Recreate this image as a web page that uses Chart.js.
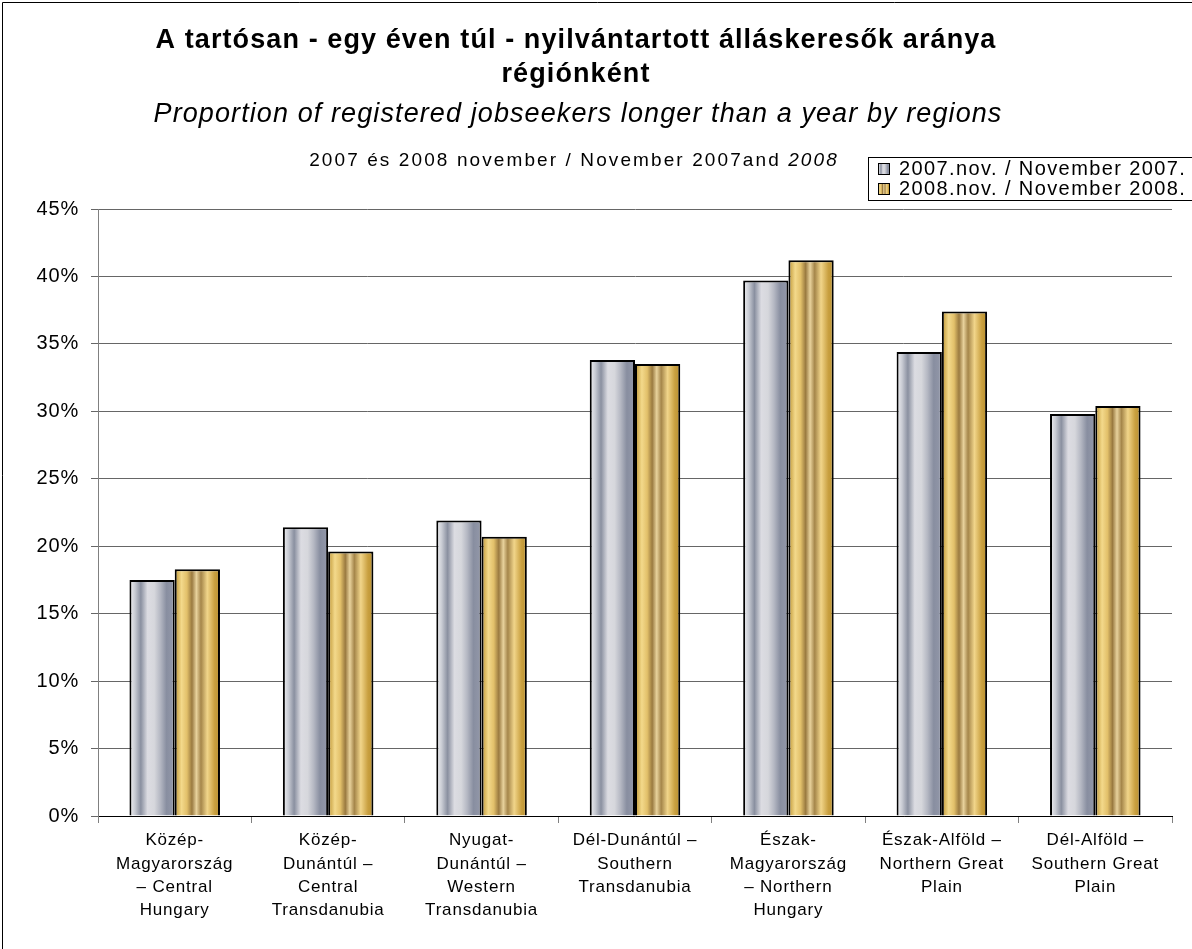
<!DOCTYPE html>
<html>
<head>
<meta charset="utf-8">
<script src="https://cdn.jsdelivr.net/npm/chart.js@4.4.0/dist/chart.umd.min.js"></script>
<style>
  body { margin: 0; background: #fff; }
  canvas { display: block; }
</style>
</head>
<body>
<canvas id="chart" width="1192" height="949"></canvas>
<script>
// regions (x axis labels, split in lines like the original)
var regions = [
	['Közép-', 'Magyarország', '– Central', 'Hungary'],
	['Közép-', 'Dunántúl –', 'Central', 'Transdanubia'],
	['Nyugat-', 'Dunántúl –', 'Western', 'Transdanubia'],
	['Dél-Dunántúl –', 'Southern', 'Transdanubia'],
	['Észak-', 'Magyarország', '– Northern', 'Hungary'],
	['Észak-Alföld –', 'Northern Great', 'Plain'],
	['Dél-Alföld –', 'Southern Great', 'Plain']
];
var seriesNames = ['2007.nov. / November 2007.', '2008.nov. / November 2008.'];
var nov2007 = [17.5, 21.4, 21.9, 33.8, 39.7, 34.4, 29.8];
var nov2008 = [18.3, 19.6, 20.7, 33.5, 41.2, 37.4, 30.4];
var yTicks = [0, 5, 10, 15, 20, 25, 30, 35, 40, 45];

var catPct = 0.59;
var FONT = '"Liberation Sans", Arial, sans-serif';

// stripe colours of the two bar fills
var silverStops = [
	[0, '#f2f2f4'], [0.12, '#c9ccd4'], [0.25, '#8a90a0'], [0.4, '#dcdce2'],
	[0.55, '#d6d7dc'], [0.68, '#b5b8c3'], [0.82, '#888ea0'], [1, '#9499aa']
];
var goldStops = [
	[0, '#bd9432'], [0.15, '#f3d98b'], [0.27, '#e2c06a'], [0.38, '#9a7a40'],
	[0.48, '#e8d29c'], [0.58, '#a5864a'], [0.72, '#f1d58a'], [0.88, '#c9a040'], [1, '#b88f2e']
];

function stripes(ctx, left, w, stops) {
	var g = ctx.createLinearGradient(left, 0, left + w, 0);
	for (var i = 0; i < stops.length; i++) g.addColorStop(stops[i][0], stops[i][1]);
	return g;
}

function barFill(stops, dsIndex, fallback) {
	return function(c) {
		var chart = c.chart;
		var xs = chart.scales.x;
		if (!xs || c.dataIndex === undefined) return fallback;
		var center = xs.getPixelForValue(c.dataIndex);
		var barW = xs.width / regions.length * catPct / 2;
		if (!isFinite(center) || !isFinite(barW) || barW <= 0) return fallback;
		var left = dsIndex === 0 ? center - barW : center;
		return stripes(chart.ctx, left, barW, stops);
	};
}

// the original text is drawn a bit spaced out
var spacingPlugin = {
	id: 'spacing',
	beforeDraw: function(chart) {
		chart.ctx.letterSpacing = '0.8px';
	}
};

var headerPlugin = {
	id: 'header',
	afterDraw: function(chart) {
		var ctx = chart.ctx;
		ctx.save();
		// frame
		ctx.strokeStyle = '#000';
		ctx.lineWidth = 1;
		ctx.beginPath();
		ctx.moveTo(2.5, 949);
		ctx.lineTo(2.5, 2.5);
		ctx.lineTo(1192, 2.5);
		ctx.stroke();

		ctx.fillStyle = '#000';
		ctx.textAlign = 'center';
		ctx.textBaseline = 'middle';
		ctx.font = 'bold 27px ' + FONT;
		ctx.letterSpacing = '1.1px';
		ctx.fillText('A tartósan - egy éven túl - nyilvántartott álláskeresők aránya', 576, 41);
		ctx.fillText('régiónként', 576, 75);
		ctx.font = 'italic 27px ' + FONT;
		ctx.letterSpacing = '1.1px';
		ctx.fillText('Proportion of registered jobseekers longer than a year by regions', 578, 114);

		// sub caption, last word italic
		ctx.textAlign = 'left';
		ctx.letterSpacing = '2.1px';
		var p1 = '2007 és 2008 november / November 2007and ';
		ctx.font = '19px ' + FONT;
		var w1 = ctx.measureText(p1).width;
		ctx.font = 'italic 19px ' + FONT;
		var w2 = ctx.measureText('2008').width;
		var sx = 574 - (w1 + w2) / 2;
		ctx.font = '19px ' + FONT;
		ctx.fillText(p1, sx, 161);
		ctx.font = 'italic 19px ' + FONT;
		ctx.fillText('2008', sx + w1, 161);

		// legend box
		ctx.fillStyle = '#fff';
		ctx.fillRect(868, 157, 330, 43);
		ctx.strokeStyle = '#000';
		ctx.strokeRect(868.5, 157.5, 330, 43);
		var rows = [[silverStops, 169], [goldStops, 189]];
		ctx.font = '20px ' + FONT;
		ctx.letterSpacing = '1.4px';
		for (var i = 0; i < 2; i++) {
			var yy = rows[i][1];
			ctx.fillStyle = stripes(ctx, 878, 12, rows[i][0]);
			ctx.fillRect(878, yy - 6, 12, 12);
			ctx.strokeStyle = '#000';
			ctx.strokeRect(878.5, yy - 5.5, 11, 11);
			ctx.fillStyle = '#000';
			ctx.fillText(seriesNames[i], 899, yy);
		}
		ctx.restore();
	}
};

var chart = new Chart(document.getElementById('chart'), {
	type: 'bar',
	data: {
		labels: regions,
		datasets: [
			{
				label: seriesNames[0],
				data: nov2007,
				backgroundColor: barFill(silverStops, 0, '#b8bcc6'),
				borderColor: '#000',
				borderWidth: 2
			},
			{
				label: seriesNames[1],
				data: nov2008,
				backgroundColor: barFill(goldStops, 1, '#d4b060'),
				borderColor: '#000',
				borderWidth: 2
			}
		]
	},
	options: {
		responsive: false,
		animation: false,
		datasets: { bar: { categoryPercentage: catPct, barPercentage: 1 } },
		layout: { padding: { left: 0, right: 20, top: 209, bottom: 0 } },
		plugins: {
			legend: { display: false },
			tooltip: { enabled: false },
			title: { display: false }
		},
		scales: {
			x: {
				afterFit: function(s) { s.height = 133; },
				grid: { drawOnChartArea: false, drawTicks: true, tickLength: 7, color: '#808080', offset: true },
				border: { color: '#000', width: 1 },
				ticks: {
					color: '#000',
					padding: 6,
					maxRotation: 0,
					autoSkip: false,
					font: { family: FONT, size: 17, lineHeight: 1.37 }
				}
			},
			y: {
				min: 0,
				max: 45,
				afterFit: function(s) { s.width = 98; },
				afterBuildTicks: function(s) { s.ticks = yTicks.map(function(v) { return { value: v }; }); },
				grid: { color: '#666', lineWidth: 1, tickLength: 7 },
				border: { color: '#808080', width: 1 },
				ticks: {
					color: '#000',
					padding: 12,
					callback: function(v) { return v + '%'; },
					font: { family: FONT, size: 20 }
				}
			}
		}
	},
	plugins: [spacingPlugin, headerPlugin]
});
</script>
</body>
</html>
